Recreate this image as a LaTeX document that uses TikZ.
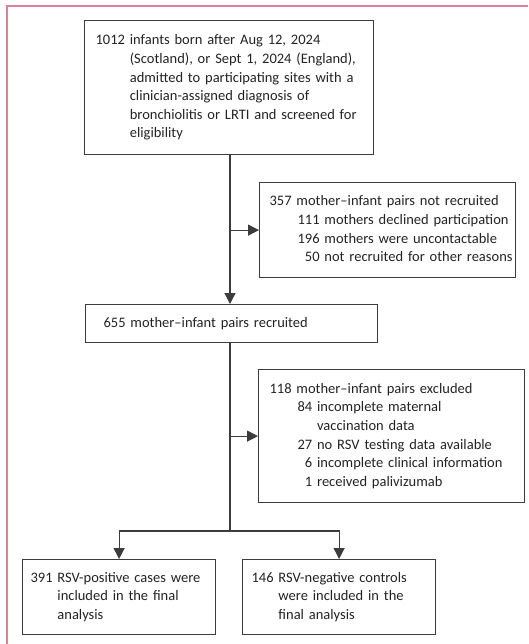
\documentclass[tikz,border=0pt]{standalone}
\usepackage{fontspec}
\setmainfont{Carlito}
\usetikzlibrary{arrows.meta, positioning}
\definecolor{cadre}{RGB}{222,128,152}
\definecolor{gristrait}{RGB}{60,60,60}
\definecolor{gristexte}{RGB}{35,35,35}

\begin{document}
\begin{tikzpicture}[x=1pt,y=-1pt]
        \tikzset{
          boite/.style={
            draw=gristrait,line width=1.2pt,anchor=north west,
            align=left,inner xsep=10pt,inner ysep=0pt,
            font=\fontsize{14.5}{18.6}\selectfont,text=gristexte,
          },
          fleche/.style={
            draw=gristrait,line width=1.2pt,-{Triangle[width=11pt,length=11pt]},
          },
          liaison/.style={draw=gristrait,line width=1.2pt},
          }
        \useasboundingbox (0,0) rectangle (528,644);
        \draw[cadre, line width=2pt] (7,644) -- (7,6) -- (528,6);

        \node[boite, inner xsep=11pt, minimum width=289pt, minimum height=134pt, text width=267pt] (haut) at (84,20) {%
        \begin{tabular}{@{}r@{ }l@{}}
        1012 & infants born after Aug 12, 2024\\
         & (Scotland), or Sept 1, 2024 (England),\\
         & admitted to participating sites with a\\
         & clinician-assigned diagnosis of\\
         & bronchiolitis or LRTI and screened for\\
         & eligibility
        \end{tabular}};
        \node[boite, minimum width=256pt, minimum height=95pt, text width=236pt] (nonrecrutes) at (259,182) {%
        \begin{tabular}{@{\hspace{28pt}}r@{ }l@{}}
        \multicolumn{2}{@{}l@{}}{357 mother–infant pairs not recruited}\\
        111 & mothers declined participation\\
        196 & mothers were uncontactable\\
        50 & not recruited for other reasons
        \end{tabular}};
        \node[boite, inner xsep=18pt, minimum width=292pt, minimum height=38pt, text width=256pt] (recrutes) at (85,304) {655 mother–infant pairs recruited};
        \node[boite, inner xsep=11pt, minimum width=266pt, minimum height=133pt, text width=244pt] (exclus) at (258,369) {%
        \begin{tabular}{@{\hspace{28pt}}r@{ }l@{}}
        \multicolumn{2}{@{}l@{}}{118 mother–infant pairs excluded}\\
        84 & incomplete maternal\\
         & vaccination data\\
        27 & no RSV testing data available\\
        6 & incomplete clinical information\\
        1 & received palivizumab
        \end{tabular}};
        \node[boite, inner xsep=8pt, minimum width=193pt, minimum height=75pt, text width=177pt] (positifs) at (22,559) {%
        \begin{tabular}{@{}r@{ }l@{}}
        391 & RSV-positive cases were\\
         & included in the final\\
         & analysis
        \end{tabular}};
        \node[boite, inner xsep=9pt, minimum width=193pt, minimum height=75pt, text width=175pt] (negatifs) at (242,559) {%
        \begin{tabular}{@{}r@{ }l@{}}
        146 & RSV-negative controls\\
         & were included in the\\
         & final analysis
        \end{tabular}};
        \coordinate (embranchement) at (230,531);

        \draw[fleche] (haut.south -| embranchement) -- (recrutes.north -| embranchement);
        \draw[fleche] (nonrecrutes.west -| embranchement) -- (nonrecrutes.west);
        \draw[liaison] (recrutes.south -| embranchement) -- (embranchement);
        \draw[fleche] (exclus.west -| embranchement) -- (exclus.west);
        \draw[fleche] (embranchement) -| (positifs.north);
        \draw[fleche] (embranchement) -| (negatifs.north);
      \end{tikzpicture}
\end{document}
